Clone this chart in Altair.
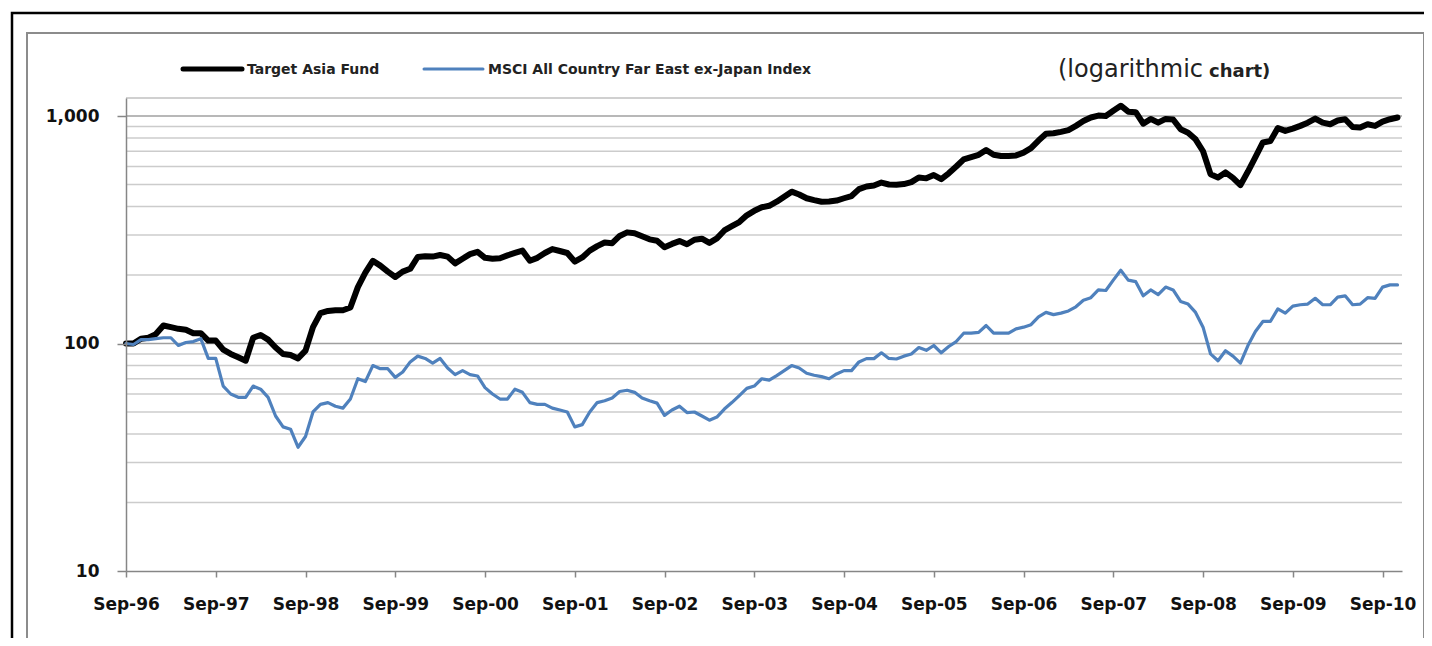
import altair as alt
import pandas as pd

# ---------------- data ----------------
year_labels = ["Sep-96", "Sep-97", "Sep-98", "Sep-99", "Sep-00", "Sep-01", "Sep-02",
               "Sep-03", "Sep-04", "Sep-05", "Sep-06", "Sep-07", "Sep-08", "Sep-09", "Sep-10"]

# monthly values, Sep-96 .. Nov-10
target_asia = [
    100, 100, 105, 106, 110, 120, 118, 116, 115, 111, 111, 103, 103, 94, 90, 87, 84, 106, 109, 104,
    96, 90, 89, 86, 93, 118, 136, 139, 140, 140, 144, 177, 205, 231, 220, 207, 196, 207, 213, 240,
    242, 241, 245, 241, 225, 236, 247, 253, 238, 236, 237, 244, 250, 256, 231, 238, 250, 260, 255, 250,
    229, 239, 256, 268, 278, 276, 297, 308, 305, 296, 287, 283, 265, 274, 282, 273, 286, 289, 277, 290,
    314, 328, 342, 366, 383, 397, 403, 420, 442, 465, 452, 435, 427, 420, 421, 425, 435, 445, 477, 490,
    495, 510, 500, 499, 502, 512, 537, 532, 550, 528, 560, 600, 645, 660, 675, 709, 676, 667, 667, 671,
    690, 722, 780, 835, 840, 852, 867, 905, 950, 985, 1004, 1000, 1055, 1110, 1045, 1040, 925, 971, 935, 971,
    965, 875, 845, 790, 700, 555, 537, 565, 535, 497, 570, 660, 765, 776, 885, 860, 880, 905, 935, 975,
    935, 920, 955, 968, 895, 890, 920, 905, 945, 968, 985,
]

msci_far_east = [
    100, 99, 104, 104, 105, 106, 106, 98, 101, 102, 105, 86, 86, 65, 60, 58, 58, 65, 63, 58,
    48, 43, 42, 35, 39, 50, 54, 55, 53, 52, 57, 70, 68, 80, 77.5, 77.5, 71, 75, 83, 88,
    86, 82, 86, 78, 73, 76, 73, 72, 64, 60, 57, 57, 63, 61, 55, 54, 54, 52, 51, 50,
    43, 44, 50, 55, 56, 57.6, 61.5, 62.3, 61, 57.6, 56, 54.7, 48.3, 51, 53, 49.7, 50, 48, 46, 47.5,
    51.5, 55, 59, 63.5, 65, 70, 69, 72.3, 76, 80, 78, 74, 72.5, 71.5, 70, 73.5, 76, 76, 83, 85.8,
    85.8, 91, 86, 85.5, 88, 90, 96, 93.3, 98, 91, 97, 102, 111, 111, 112, 120, 111, 111, 111, 116,
    118, 121, 131, 137, 134, 136, 139, 145, 155, 159, 172, 171, 190, 210, 190, 187, 162, 172, 164, 177,
    172, 153, 149, 137, 118, 90, 84, 93, 88, 82, 98, 113, 125, 125, 142, 136, 146, 148, 149, 158,
    148, 148, 160, 162, 148, 149, 159, 158, 177, 181, 181,
]

series_names = ["Target Asia Fund", "MSCI All Country Far East ex-Japan Index"]
y_ticks = [10, 100, 1000]
grid_major = [100, 1000]
grid_minor = [20, 30, 40, 50, 60, 70, 80, 90, 200, 300, 400, 500, 600, 700, 800, 900]
y_top = 1200
x_end = 170.6

# ---------------- layout ----------------
W, H = 1276, 473
FONT = "DejaVu Sans"
BLACK = "#000000"
BLUE = "#4F81BD"
GRID_MINOR = "#cccccc"
GRID_MAJOR = "#a0a0a0"
GRID_TOP = "#c0c0c0"
AXIS = "#868686"

fund_df = pd.DataFrame({"m": list(range(len(target_asia))), "v": target_asia})
msci_df = pd.DataFrame({"m": list(range(len(msci_far_east))), "v": msci_far_east})
grid_df = pd.DataFrame({
    "g": grid_minor + grid_major + [y_top],
    "kind": ["minor"] * len(grid_minor) + ["major"] * len(grid_major) + ["top"],
    "m": 0.0,
    "m2": x_end,
})

xscale = alt.Scale(domain=[0, x_end], nice=False, zero=False)
yscale = alt.Scale(type="log", domain=[10, y_top], nice=False)

label_arr = "[" + ",".join("'" + s + "'" for s in year_labels) + "]"

x_axis = alt.Axis(
    values=[12 * i for i in range(len(year_labels))],
    labelExpr=label_arr + "[round(datum.value/12)]",
    title=None, grid=False, zindex=1,
    labelOverlap=False, labelFlush=False, labelBound=False,
    domainColor=AXIS, domainWidth=1.5,
    tickColor=AXIS, tickSize=6, tickWidth=1.5,
    labelFont=FONT, labelFontSize=17, labelFontWeight="bold", labelColor="#111111",
    labelPadding=19, labelBaseline="top",
)
y_axis = alt.Axis(
    values=y_ticks, format=",", title=None, grid=False, zindex=1,
    labelOverlap=False, labelFlush=False, labelBound=False,
    domainColor=AXIS, domainWidth=1.5,
    tickColor=AXIS, tickSize=9, tickWidth=1.5,
    labelFont=FONT, labelFontSize=17, labelFontWeight="bold", labelColor="#111111",
    labelPadding=18,
)

one = alt.Data(values=[{"k": 0}])

grid = alt.Chart(grid_df).mark_rule(strokeWidth=1.5).encode(
    x=alt.X("m:Q", scale=xscale, axis=x_axis),
    x2="m2:Q",
    y=alt.Y("g:Q", scale=yscale, axis=y_axis),
    color=alt.Color("kind:N", scale=alt.Scale(domain=["minor", "major", "top"],
                                              range=[GRID_MINOR, GRID_MAJOR, GRID_TOP]),
                    legend=None),
)

fund_line = alt.Chart(fund_df).mark_line(
    color=BLACK, strokeWidth=6, strokeJoin="round", strokeCap="round"
).encode(
    x=alt.X("m:Q", scale=xscale, axis=x_axis),
    y=alt.Y("v:Q", scale=yscale, axis=y_axis),
)

msci_line = alt.Chart(msci_df).mark_line(
    color=BLUE, strokeWidth=3.2, strokeJoin="round", strokeCap="round"
).encode(
    x=alt.X("m:Q", scale=xscale, axis=x_axis),
    y=alt.Y("v:Q", scale=yscale, axis=y_axis),
)

# manual legend (pixel positions relative to plot origin)
leg_black = alt.Chart(one).mark_rule(color=BLACK, strokeWidth=5, strokeCap="round").encode(
    x=alt.value(57), x2=alt.value(116), y=alt.value(-29))
leg_black_t = alt.Chart(one).mark_text(
    text=series_names[0], align="left", baseline="middle", font=FONT, fontSize=14,
    fontWeight="bold", color="#222222").encode(x=alt.value(121), y=alt.value(-28))
leg_blue = alt.Chart(one).mark_rule(color=BLUE, strokeWidth=3, strokeCap="round").encode(
    x=alt.value(298), x2=alt.value(357), y=alt.value(-29))
leg_blue_t = alt.Chart(one).mark_text(
    text=series_names[1], align="left", baseline="middle", font=FONT, fontSize=14,
    fontWeight="bold", color="#222222").encode(x=alt.value(362), y=alt.value(-28))

note1 = alt.Chart(one).mark_text(
    text="(logarithmic", align="left", baseline="alphabetic", font=FONT, fontSize=24,
    color="#222222").encode(x=alt.value(932), y=alt.value(-21))
note2 = alt.Chart(one).mark_text(
    text="chart)", align="left", baseline="alphabetic", font=FONT, fontSize=18,
    fontWeight="bold", color="#222222").encode(x=alt.value(1083), y=alt.value(-21))

inner_border = alt.Chart(one).mark_rect(
    filled=False, fill="transparent", stroke="#8c8c8c", strokeWidth=2).encode(
    x=alt.value(-99), x2=alt.value(1298), y=alt.value(-65), y2=alt.value(541))
outer_border = alt.Chart(one).mark_rect(
    filled=False, fill="transparent", stroke="#000000", strokeWidth=2.5).encode(
    x=alt.value(-114), x2=alt.value(1330), y=alt.value(-85), y2=alt.value(570))

chart = alt.layer(
    grid, fund_line, msci_line,
    leg_black, leg_black_t, leg_blue, leg_blue_t, note1, note2,
    inner_border, outer_border,
).properties(
    width=W, height=H,
    autosize=alt.AutoSizeParams(type="none"),
    padding={"left": 118, "top": 90, "right": 22, "bottom": 67},
    background="white",
).configure_view(stroke=None)

chart.save("out.html", embed_options={"renderer": "svg", "actions": False})
